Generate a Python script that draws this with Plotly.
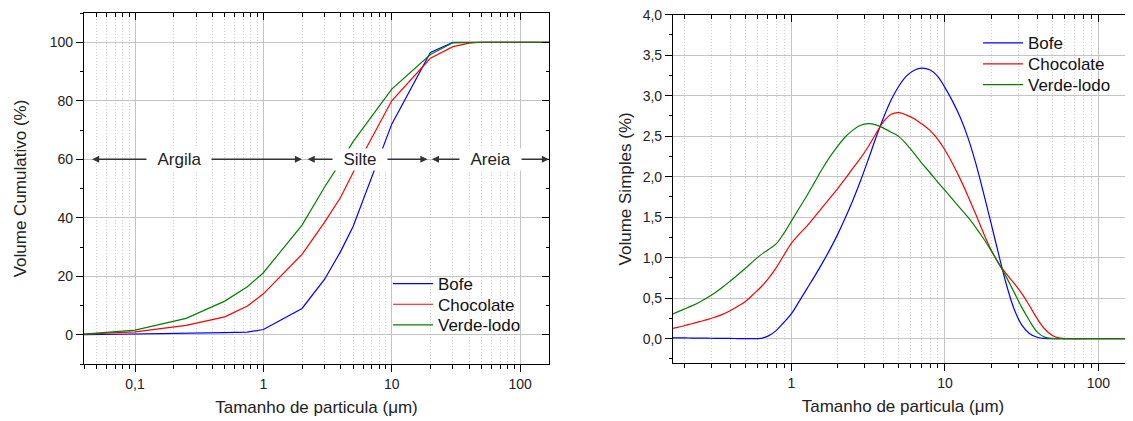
import numpy as np
import plotly.graph_objects as go

# ---------------- data ----------------
series_names = ["Bofe", "Chocolate", "Verde-lodo"]

# Left panel: cumulative volume (%)
cum_size = [0.04, 0.1, 0.25, 0.5, 0.75, 1, 2, 3, 4, 5, 10, 20, 30, 40, 50, 100, 168]
cum_bofe = [0.0, 0.2, 0.4, 0.7, 0.9, 1.8, 9.0, 19.0, 28.5, 37.0, 72.0, 96.5, 100, 100, 100, 100, 100]
cum_chocolate = [0.2, 1.0, 3.2, 6.1, 9.8, 14.0, 27.5, 38.5, 47.0, 55.5, 80.0, 94.5, 98.5, 99.7, 100, 100, 100]
cum_verde = [0.2, 1.6, 5.6, 11.5, 16.4, 21.2, 37.5, 50.5, 59.0, 66.0, 84.0, 95.8, 99.8, 100, 100, 100, 100]

# Right panel: simple (differential) volume (%) read at size classes (µm)
simple_size = [0.158, 0.178, 0.2, 0.224, 0.251, 0.282, 0.316, 0.355, 0.398, 0.447, 0.501,
               0.562, 0.631, 0.708, 0.794, 0.891, 1.0, 1.122, 1.259, 1.413, 1.585, 1.778,
               1.995, 2.239, 2.512, 2.818, 3.162, 3.548, 3.981, 4.467, 5.012, 5.623, 6.31,
               7.079, 7.943, 8.913, 10.0, 11.22, 12.59, 14.13, 15.85, 17.78, 19.95, 22.39,
               25.12, 28.18, 31.62, 35.48, 39.81, 44.67, 50.12, 56.23, 63.1, 100, 168]
simple_bofe = [0.010, 0.010, 0.009, 0.008, 0.007, 0.006, 0.005, 0.004, 0.003, 0.002, 0.001,
               0.0, 0.005, 0.035, 0.10, 0.20, 0.31, 0.46, 0.615, 0.77, 0.93, 1.10,
               1.285, 1.49, 1.71, 1.95, 2.21, 2.48, 2.73, 2.95, 3.12, 3.245, 3.315,
               3.34, 3.32, 3.245, 3.10, 2.93, 2.73, 2.48, 2.17, 1.81, 1.43, 1.04,
               0.67, 0.37, 0.17, 0.065, 0.018, 0.003, 0.0, 0.0, 0.0, 0.0, 0.0]
simple_chocolate = [0.117, 0.137, 0.16, 0.185, 0.21, 0.235, 0.265, 0.30, 0.345, 0.40, 0.46,
                    0.545, 0.635, 0.745, 0.875, 1.03, 1.18, 1.29, 1.39, 1.505, 1.62, 1.735,
                    1.85, 1.975, 2.105, 2.23, 2.37, 2.53, 2.68, 2.77, 2.79, 2.76, 2.715,
                    2.65, 2.575, 2.47, 2.33, 2.16, 1.97, 1.76, 1.54, 1.31, 1.10, 0.93,
                    0.80, 0.685, 0.56, 0.41, 0.25, 0.12, 0.04, 0.008, 0.0, 0.0, 0.0]
simple_verde = [0.285, 0.325, 0.365, 0.405, 0.45, 0.505, 0.565, 0.635, 0.71, 0.79, 0.87,
                0.955, 1.035, 1.10, 1.17, 1.30, 1.455, 1.61, 1.765, 1.93, 2.095, 2.245,
                2.375, 2.49, 2.575, 2.635, 2.655, 2.64, 2.60, 2.55, 2.495, 2.40, 2.285,
                2.165, 2.055, 1.94, 1.83, 1.72, 1.61, 1.50, 1.375, 1.24, 1.09, 0.93,
                0.76, 0.575, 0.39, 0.225, 0.085, 0.02, 0.003, 0.0, 0.0, 0.0, 0.0]

# Granulometric classes (left panel)
class_names = ["Argila", "Silte", "Areia"]
class_start = [0.045, 2.15, 20]
class_end = [2, 19, 168]
class_label_pos = [0.22, 5.7, 59]
class_level = 60

# Axis ticks
x_major = [0.1, 1, 10, 100]
x_major_text = ["0,1", "1", "10", "100"]
x_minor = [m * 10.0 ** d for d in range(-2, 3) for m in range(2, 10)]
cum_ticks = [0, 20, 40, 60, 80, 100]
cum_minor = [-10, 10, 30, 50, 70, 90, 110]
simple_ticks = [0, 0.5, 1.0, 1.5, 2.0, 2.5, 3.0, 3.5, 4.0]
simple_tick_text = ["0,0", "0,5", "1,0", "1,5", "2,0", "2,5", "3,0", "3,5", "4,0"]
simple_minor = [-0.25, 0.25, 0.75, 1.25, 1.75, 2.25, 2.75, 3.25, 3.75]

# ---------------- styles / layout ----------------
colors = ["#0000ff", "#ff0000", "#008000"]
FONT = "Liberation Sans, Arial, sans-serif"
GRID = "#c4c4c4"
MINOR_GRID = "#cfcfcf"
OFF = 8  # page (body) offset in px

W, H = 1133 - OFF, 421 - OFF


def px_x(sx):
    return (sx - OFF) / W


def px_y(sy):
    return 1 - (sy - OFF) / H


left_dom = [px_x(84), px_x(549)]
right_dom = [px_x(673), 1.0]
left_ydom = [px_y(364), px_y(13)]
right_ydom = [px_y(363), px_y(14.7)]
left_xrange = [np.log10(0.04), np.log10(168)]
right_xrange = [np.log10(0.169), np.log10(168)]

left_legend_rows = [284, 304.7, 325.3]
right_legend_rows = [43.3, 64.3, 85]
left_legend_text_x = 438
right_legend_text_x = 1028

fig = go.Figure()

legend_ids_left = ["legend", "legend2", "legend3"]
legend_ids_right = ["legend4", "legend5", "legend6"]

for name, vals, col, lg in zip(series_names, [cum_bofe, cum_chocolate, cum_verde], colors,
                               legend_ids_left):
    fig.add_trace(go.Scatter(x=cum_size, y=vals, mode="lines", name=name,
                             line=dict(color=col, width=1.2), xaxis="x", yaxis="y",
                             legend=lg))

for name, vals, col, lg in zip(series_names, [simple_bofe, simple_chocolate, simple_verde],
                               colors, legend_ids_right):
    fig.add_trace(go.Scatter(x=simple_size, y=vals, mode="lines", name=name,
                             line=dict(color=col, width=1.2, shape="spline", smoothing=1.0),
                             xaxis="x2", yaxis="y2", legend=lg))

# empty traces so that the mirrored (inward tick) axes get drawn
fig.add_trace(go.Scatter(x=[], y=[], xaxis="x3", yaxis="y3", showlegend=False, hoverinfo="skip"))
fig.add_trace(go.Scatter(x=[], y=[], xaxis="x4", yaxis="y4", showlegend=False, hoverinfo="skip"))

axis_common = dict(showline=True, linecolor="black", linewidth=1.2, tickcolor="black",
                   tickwidth=1.2, zeroline=False, automargin=False, ticklabeloverflow="allow",
                   tickfont=dict(size=14, color="#222", family=FONT))
minor_grid = dict(showgrid=True, gridcolor=MINOR_GRID, griddash="1px,2px", gridwidth=1)


def xmain(domain, rng, anchor, tv, tt):
    return dict(domain=domain, anchor=anchor, type="log", range=rng, tickmode="array",
                tickvals=tv, ticktext=tt, ticks="outside", ticklen=7,
                showgrid=True, gridcolor=GRID, gridwidth=1,
                minor=dict(tickmode="array", tickvals=x_minor, ticks="outside", ticklen=4,
                           tickcolor="black", tickwidth=1, **minor_grid),
                title=dict(text="Tamanho de particula (μm)",
                           font=dict(size=17, color="#222", family=FONT), standoff=10),
                **axis_common)


def xmirror(over, rng, anchor):
    return dict(overlaying=over, anchor=anchor, side="top", type="log", range=rng,
                tickmode="array", tickvals=x_major, showticklabels=False, ticks="inside",
                ticklen=7, showgrid=False,
                minor=dict(tickmode="array", tickvals=x_minor, ticks="inside", ticklen=4,
                           tickcolor="black", tickwidth=1, showgrid=False),
                **axis_common)


def ymirror(over, anchor, rng, tv, mv):
    return dict(overlaying=over, anchor=anchor, side="right", range=rng, tickmode="array",
                tickvals=tv, ticks="inside", ticklen=7, showticklabels=False, showgrid=False,
                minor=dict(tickmode="array", tickvals=mv, ticks="inside", ticklen=3,
                           tickcolor="black", tickwidth=1, showgrid=False),
                **axis_common)


def legend_at(text_x, row_y):
    return dict(x=px_x(text_x - 50), y=px_y(row_y), xanchor="left", yanchor="middle",
                bgcolor="rgba(0,0,0,0)", borderwidth=0,
                font=dict(size=17, color="#111", family=FONT), itemwidth=40)


layout_legends = {}
for lg, ry in zip(legend_ids_left, left_legend_rows):
    layout_legends[lg] = legend_at(left_legend_text_x, ry)
for lg, ry in zip(legend_ids_right, right_legend_rows):
    layout_legends[lg] = legend_at(right_legend_text_x, ry)

fig.update_layout(
    template="none",
    width=W, height=H,
    margin=dict(l=0, r=0, t=0, b=0, pad=0),
    paper_bgcolor="white", plot_bgcolor="white",
    font=dict(family=FONT, color="#222"),
    xaxis=xmain(left_dom, left_xrange, "y", x_major, x_major_text),
    xaxis2=xmain(right_dom, right_xrange, "y2", x_major[1:], x_major_text[1:]),
    xaxis3=xmirror("x", left_xrange, "y"),
    xaxis4=xmirror("x2", right_xrange, "y2"),
    yaxis=dict(domain=left_ydom, anchor="x", range=[-10, 110], tickmode="array",
               tickvals=cum_ticks, ticks="outside", ticklen=7, showgrid=True,
               gridcolor=GRID, gridwidth=1.3,
               minor=dict(tickmode="array", tickvals=cum_minor, ticks="outside", ticklen=3,
                          tickcolor="black", tickwidth=1, showgrid=False),
               title=dict(text="Volume Cumulativo (%)",
                          font=dict(size=17, color="#222", family=FONT), standoff=18),
               **axis_common),
    yaxis3=ymirror("y", "x", [-10, 110], cum_ticks, cum_minor),
    yaxis2=dict(domain=right_ydom, anchor="x2", range=[-0.3, 4.0], tickmode="array",
                tickvals=simple_ticks, ticktext=simple_tick_text, ticks="outside", ticklen=7,
                showgrid=True, gridcolor=GRID, gridwidth=1.3,
                minor=dict(tickmode="array", tickvals=simple_minor, ticks="outside", ticklen=3,
                           tickcolor="black", tickwidth=1, showgrid=False),
                title=dict(text="Volume Simples (%)",
                           font=dict(size=17, color="#222", family=FONT), standoff=6),
                **axis_common),
    yaxis4=ymirror("y2", "x2", [-0.3, 4.0], simple_ticks, simple_minor),
    showlegend=True,
    **layout_legends,
)

annotations = []
for s, e in zip(class_start, class_end):
    annotations.append(dict(xref="x", yref="y", axref="x", ayref="y",
                            x=np.log10(e), y=class_level, ax=np.log10(s), ay=class_level,
                            text="", showarrow=True, arrowhead=2, arrowside="end+start",
                            arrowsize=1.1, arrowwidth=1.3, arrowcolor="#333",
                            standoff=0, startstandoff=0))
for name, p in zip(class_names, class_label_pos):
    annotations.append(dict(xref="x", yref="y", x=np.log10(p), y=class_level,
                            text="\u00a0\u00a0" + name + "\u00a0\u00a0", showarrow=False,
                            bgcolor="white", borderpad=1,
                            font=dict(size=17, color="#222", family=FONT)))
fig.update_layout(annotations=annotations)

fig.write_html("out.html")
